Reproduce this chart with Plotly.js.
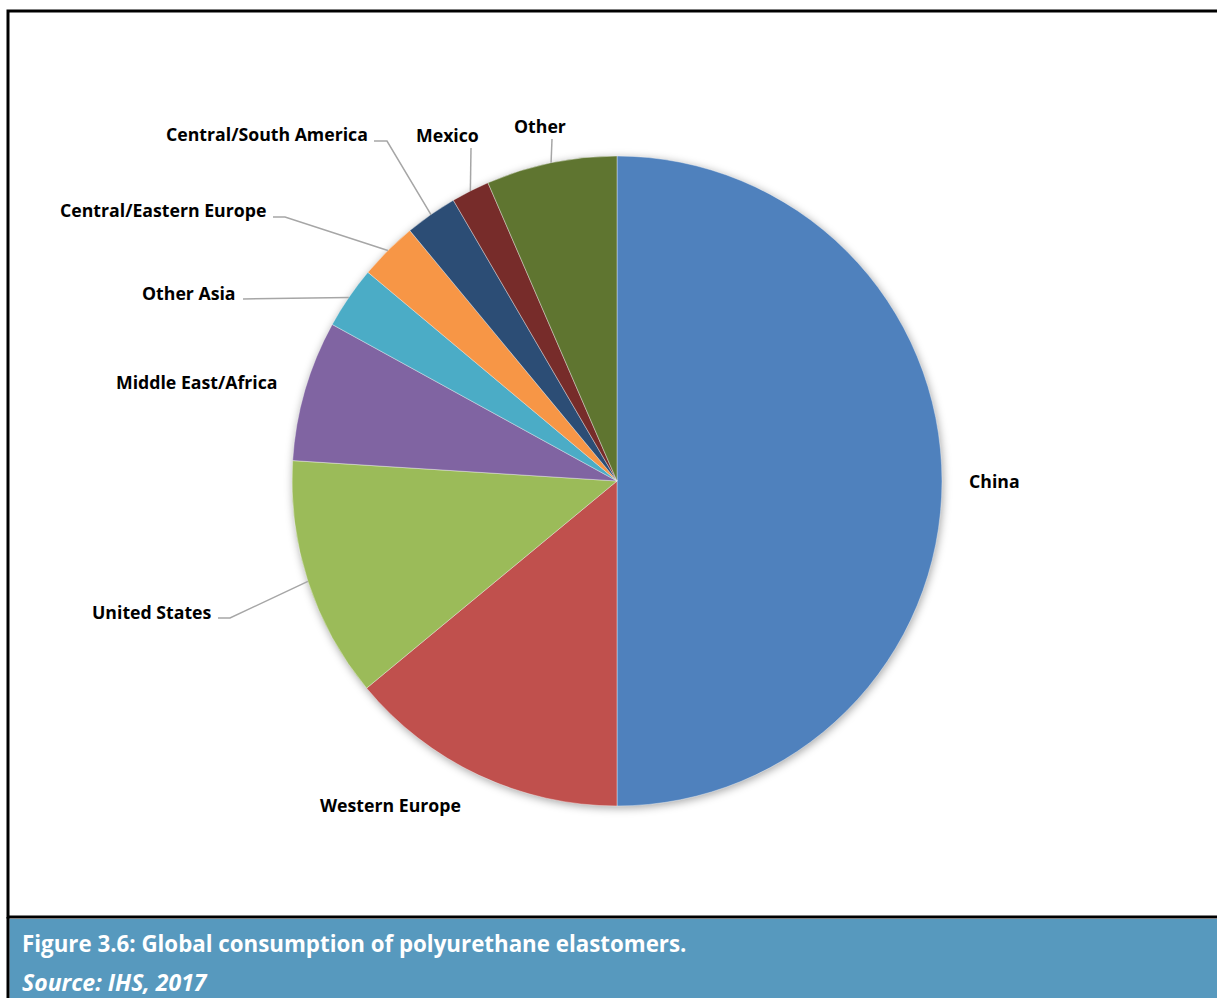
<!DOCTYPE html>
<html>
<head>
<meta charset="utf-8">
<script src="https://cdn.plot.ly/plotly-3.0.1.min.js"></script>
<style>
  html, body { margin: 0; padding: 0; background: #ffffff; }
  #chart { width: 1217px; height: 998px; }
</style>
</head>
<body>
<div id="chart"></div>
<script>
// ---- Data (% share) ----
const regions = ["China", "Western Europe", "United States", "Middle East/Africa", "Other Asia",
                 "Central/Eastern Europe", "Central/South America", "Mexico", "Other"];
const shares  = [50.0, 14.0, 12.0, 7.0, 3.1, 2.9, 2.6, 1.9, 6.5];
const sliceColors = ["#4F81BD", "#C0504D", "#9BBB59", "#8064A2", "#4BACC6",
                     "#F79646", "#2C4D75", "#772C2A", "#5F7530"];
const captionTitle  = "Figure 3.6: Global consumption of polyurethane elastomers.";
const captionSource = "Source: IHS, 2017";

// ---- Layout (pixel geometry of the page) ----
const W = 1217, H = 998;
const pieCx = 617, pieCy = 481, pieR = 325;

// label placement (pixel) and leader-line elbows near the labels
const labelLayout = {
  "China":                  {x: 967, y: 481, xa: "left"},
  "Western Europe":         {x: 390, y: 805, xa: "center"},
  "United States":          {x: 214, y: 612, xa: "right", line: [[218, 618], [230, 618]]},
  "Middle East/Africa":     {x: 280, y: 382, xa: "right"},
  "Other Asia":             {x: 238, y: 293, xa: "right", line: [[243, 299]]},
  "Central/Eastern Europe": {x: 268, y: 210, xa: "right", line: [[273, 217], [285, 217]]},
  "Central/South America":  {x: 370, y: 134, xa: "right", line: [[374, 141], [387, 141]]},
  "Mexico":                 {x: 447, y: 135, xa: "center", line: [[471, 148]]},
  "Other":                  {x: 540, y: 126, xa: "center", line: [[552, 139]]}
};

const labelFont = {family: "'Open Sans', Lato, sans-serif", size: 17.7, color: "#000000"};
const captionFont = {family: "'Open Sans', Lato, sans-serif", size: 22.3, color: "#FFFFFF"};
const sourceFont = {family: "'Open Sans', Lato, sans-serif", size: 23, color: "#FFFFFF"};

// ---- Build ----
const total = shares.reduce((a, b) => a + b, 0);
let cum = 0;
const annotations = [];
const shapes = [];

regions.forEach((name, i) => {
  const mid = (cum + shares[i] / 2) / total * 2 * Math.PI;  // clockwise from 12 o'clock
  cum += shares[i];
  const ex = pieCx + pieR * Math.sin(mid);
  const ey = pieCy - pieR * Math.cos(mid);
  const L = labelLayout[name];
  annotations.push({
    x: L.x, y: L.y, xref: "x", yref: "y", text: "<b>" + name + "</b>",
    showarrow: false, xanchor: L.xa, yanchor: "middle", font: labelFont
  });
  if (L.line) {
    const pts = L.line.concat([[ex, ey]]);
    let d = "M " + pts[0][0] + " " + pts[0][1];
    for (let k = 1; k < pts.length; k++) d += " L " + pts[k][0] + " " + pts[k][1];
    shapes.push({type: "path", path: d, xref: "x", yref: "y",
                 line: {color: "#A6A6A6", width: 1.5}});
  }
});

// frame and caption band
shapes.push({type: "rect", xref: "x", yref: "y", x0: 8, x1: 1222, y0: 11, y1: 917,
             line: {color: "#000000", width: 3}, fillcolor: "rgba(0,0,0,0)"});
shapes.push({type: "rect", xref: "x", yref: "y", x0: 9.5, x1: 1222, y0: 919, y1: 1005,
             line: {width: 0}, fillcolor: "#5799BE"});
shapes.push({type: "line", xref: "x", yref: "y", x0: 8, x1: 8, y0: 917, y1: 1005,
             line: {color: "#000000", width: 3}});

annotations.push({x: 20, y: 943, xref: "x", yref: "y", xanchor: "left", yanchor: "middle",
  showarrow: false, text: "<b>" + captionTitle + "</b>", font: captionFont});
annotations.push({x: 20, y: 982, xref: "x", yref: "y", xanchor: "left", yanchor: "middle",
  showarrow: false, text: "<b><i>" + captionSource + "</i></b>", font: sourceFont});

const trace = {
  type: "pie",
  labels: regions,
  values: shares,
  sort: false,
  direction: "clockwise",
  rotation: 0,
  textinfo: "none",
  hoverinfo: "label+percent",
  marker: {colors: sliceColors, line: {color: "rgba(255,255,255,0.55)", width: 0.7}},
  domain: {x: [(pieCx - pieR) / W, (pieCx + pieR) / W],
           y: [(H - pieCy - pieR) / H, (H - pieCy + pieR) / H]},
  showlegend: false
};

const layout = {
  width: W, height: H,
  margin: {l: 0, r: 0, t: 0, b: 0, pad: 0},
  paper_bgcolor: "#FFFFFF", plot_bgcolor: "rgba(0,0,0,0)",
  showlegend: false,
  xaxis: {range: [0, W], visible: false, fixedrange: true, domain: [0, 1]},
  yaxis: {range: [H, 0], visible: false, fixedrange: true, domain: [0, 1]},
  shapes: shapes,
  annotations: annotations
};

Plotly.newPlot("chart", [trace], layout, {displayModeBar: false, staticPlot: true}).then(() => {
  document.querySelectorAll(".pielayer .trace").forEach(g => {
    g.style.filter = "drop-shadow(1px 2px 4px rgba(0,0,0,0.35))";
  });
});
</script>
</body>
</html>
